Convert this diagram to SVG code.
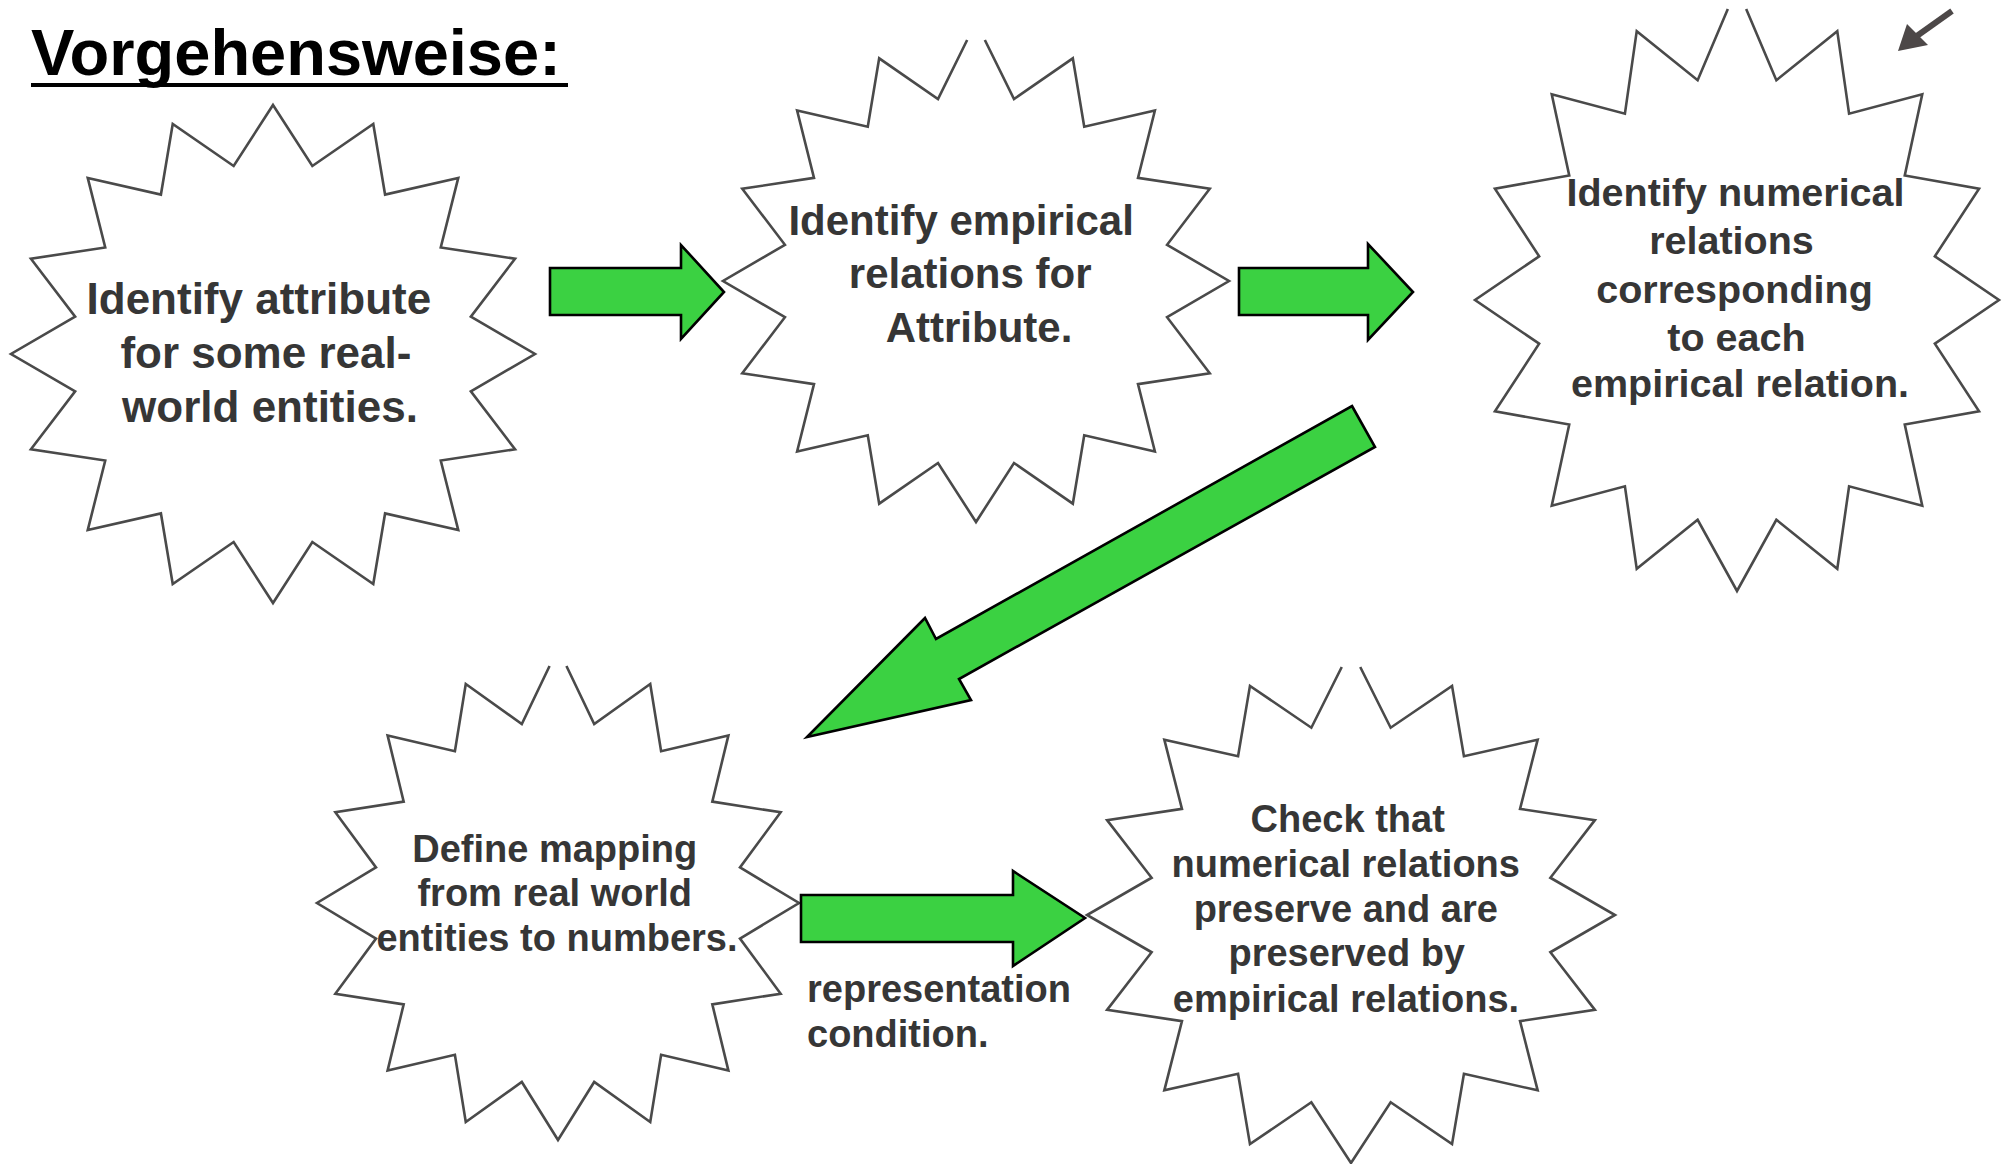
<svg xmlns="http://www.w3.org/2000/svg" xmlns:xlink="http://www.w3.org/1999/xlink" width="2002" height="1164" viewBox="0 0 2002 1164">
<style>
.star{fill:#ffffff;stroke:#4a4a4a;stroke-width:2.6;stroke-linejoin:miter;vector-effect:non-scaling-stroke}
.lbl{font-family:"Liberation Sans",Arial,Helvetica,sans-serif;font-weight:bold;fill:#363636;text-anchor:middle}
.edge{font-family:"Liberation Sans",Arial,Helvetica,sans-serif;font-weight:bold;fill:#363636;font-size:38px}
.arrow{fill:#3bd142;stroke:#000000;stroke-width:2.6;stroke-linejoin:miter}
.title{font-family:"Liberation Sans",Arial,Helvetica,sans-serif;font-weight:bold;font-size:65px;fill:#000000}
</style>
<defs>
<path id="starClosed" class="star" d="M0,-100 L15.02,-75.52 L38.27,-92.39 L42.78,-64.03 L70.71,-70.71 L64.03,-42.78 L92.39,-38.27 L75.52,-15.02 L100,0 L75.52,15.02 L92.39,38.27 L64.03,42.78 L70.71,70.71 L42.78,64.03 L38.27,92.39 L15.02,75.52 L0,100 L-15.02,75.52 L-38.27,92.39 L-42.78,64.03 L-70.71,70.71 L-64.03,42.78 L-92.39,38.27 L-75.52,15.02 L-100,0 L-75.52,-15.02 L-92.39,-38.27 L-64.03,-42.78 L-70.71,-70.71 L-42.78,-64.03 L-38.27,-92.39 L-15.02,-75.52 Z"/>
<path id="starOpen" class="star" d="M3.5,-100 L15.02,-75.52 L38.27,-92.39 L42.78,-64.03 L70.71,-70.71 L64.03,-42.78 L92.39,-38.27 L75.52,-15.02 L100,0 L75.52,15.02 L92.39,38.27 L64.03,42.78 L70.71,70.71 L42.78,64.03 L38.27,92.39 L15.02,75.52 L0,100 L-15.02,75.52 L-38.27,92.39 L-42.78,64.03 L-70.71,70.71 L-64.03,42.78 L-92.39,38.27 L-75.52,15.02 L-100,0 L-75.52,-15.02 L-92.39,-38.27 L-64.03,-42.78 L-70.71,-70.71 L-42.78,-64.03 L-38.27,-92.39 L-15.02,-75.52 L-3.5,-100"/>
</defs>
<rect x="0" y="0" width="2002" height="1164" fill="#ffffff"/>

<g id="title">
<text class="title" x="31" y="75">Vorgehensweise:</text>
<rect x="31" y="83" width="537" height="4" fill="#000000"/>
</g>

<g id="node-identify-attribute">
<use href="#starClosed" xlink:href="#starClosed" transform="translate(273,354) scale(2.62,2.49)"/>
<text class="lbl" font-size="44">
<tspan x="265" y="314">Identify attribute</tspan>
<tspan x="272" y="368">for some real-</tspan>
<tspan x="270" y="422">world entities.</tspan>
</text>
</g>

<g id="node-empirical-relations">
<use href="#starOpen" xlink:href="#starOpen" transform="translate(976,281) scale(2.53,2.41)"/>
<text class="lbl" font-size="42">
<tspan x="967" y="235">Identify empirical</tspan>
<tspan x="976" y="288">relations for</tspan>
<tspan x="979" y="342">Attribute.</tspan>
</text>
</g>

<g id="node-numerical-relations">
<use href="#starOpen" xlink:href="#starOpen" transform="translate(1737,300) scale(2.62,2.91)"/>
<text class="lbl" font-size="39.5">
<tspan x="1741" y="206">Identify numerical</tspan>
<tspan x="1737" y="254">relations</tspan>
<tspan x="1740" y="303">corresponding</tspan>
<tspan x="1742" y="351">to each</tspan>
<tspan x="1740" y="397">empirical relation.</tspan>
</text>
</g>

<g id="node-define-mapping">
<use href="#starOpen" xlink:href="#starOpen" transform="translate(558,903) scale(2.41,2.37)"/>
<text class="lbl" font-size="38">
<tspan x="560" y="862">Define mapping</tspan>
<tspan x="560" y="906">from real world</tspan>
<tspan x="557" y="951">entities to numbers.</tspan>
</text>
</g>

<g id="node-check">
<use href="#starOpen" xlink:href="#starOpen" transform="translate(1351,915) scale(2.64,2.48)"/>
<text class="lbl" font-size="38">
<tspan x="1353" y="832">Check that</tspan>
<tspan x="1351" y="877">numerical relations</tspan>
<tspan x="1351" y="922">preserve and are</tspan>
<tspan x="1352" y="966">preserved by</tspan>
<tspan x="1346" y="1012">empirical relations.</tspan>
</text>
</g>

<g id="connectors">
<path class="arrow" d="M550,268 H681 V245 L724,292 L681,339 V315 H550 Z"/>
<path class="arrow" d="M1239,268 H1368 V244 L1413,292 L1368,340 V315 H1239 Z"/>
<path class="arrow" d="M1352,406 L1375,447 L959,679 L971,700 L807,737 L925,618 L936,639 Z"/>
<path class="arrow" d="M801,895 H1013 V871 L1085,918 L1013,966 V942 H801 Z"/>
<text class="edge"><tspan x="807" y="1002">representation</tspan><tspan x="807" y="1047">condition.</tspan></text>
<g id="corner-arrow">
<line x1="1952" y1="11" x2="1914" y2="38" stroke="#4d4848" stroke-width="6"/>
<polygon points="1898,51 1907,24 1928,45" fill="#4d4848"/>
</g>
</g>
</svg>
